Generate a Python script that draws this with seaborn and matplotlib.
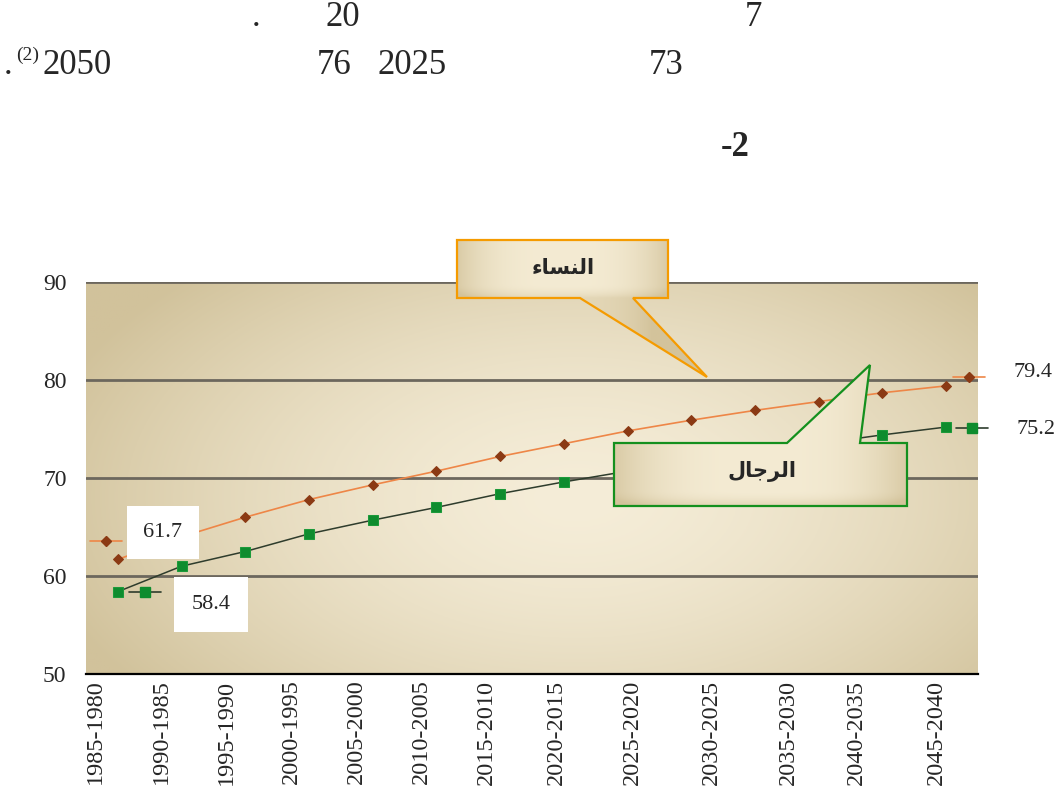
import numpy as np
import matplotlib
matplotlib.use("Agg")
import matplotlib.pyplot as plt
import matplotlib.colors as mcolors
from matplotlib.patches import Polygon
from matplotlib.lines import Line2D
from matplotlib.offsetbox import DrawingArea, AnnotationBbox
import seaborn as sns

# data
period_idx = list(range(14))
women = [61.7, 64.0, 66.0, 67.8, 69.3, 70.7, 72.2, 73.5, 74.8, 75.9, 76.9, 77.8, 78.7, 79.4]
men = [58.4, 61.0, 62.5, 64.3, 65.7, 67.0, 68.4, 69.6, 70.7, 71.7, 72.6, 73.5, 74.4, 75.2]
period_labels = ["1985-1980", "1990-1985", "1995-1990", "2000-1995", "2005-2000",
                 "2010-2005", "2015-2010", "2020-2015", "2025-2020", "2030-2025",
                 "2035-2030", "2040-2035", "2045-2040"]
y_ticks = [50, 60, 70, 80, 90]
# Arabic callout texts, already shaped (presentation forms, visual order)
women_name = "\uFE80\uFE8E\uFEB4\uFEE8\uFEDF\uFE8D"   # النساء
men_name = "\uFEDD\uFE8E\uFE9F\uFEAE\uFEDF\uFE8D"     # الرجال

W, H = 1063, 799
sns.set_style("white")
plt.rcParams['font.family'] = ['Liberation Serif', 'DejaVu Sans']

fig = plt.figure(figsize=(W / 100, H / 100), dpi=100)
ax = fig.add_axes([86 / W, 1 - 674 / H, (978 - 86) / W, (674 - 282) / H])


def blend(c1, c2, t):
    a = np.array(mcolors.to_rgb(c1))
    b = np.array(mcolors.to_rgb(c2))
    return a[None, None, :] * (1 - t[..., None]) + b[None, None, :] * t[..., None]


# beige gradient background
gx, gy = np.meshgrid(np.linspace(0, 1, 400), np.linspace(0, 1, 200))
r = np.sqrt(((gx - 0.55) / 0.62) ** 2 + ((gy - 0.55) / 0.8) ** 2)
t = np.clip(r, 0, 1) ** 1.6
bg = blend("#F5EDD8", "#D1C29B", t)
ax.imshow(bg, extent=(0, 1, 0, 1), transform=ax.transAxes, aspect="auto",
          origin="upper", zorder=0)

# series
sns.lineplot(x=period_idx, y=women, ax=ax, color="#EE8647", linewidth=1.2,
             marker="D", markersize=5.5, markerfacecolor="#8B3A14",
             markeredgecolor="#8B3A14", zorder=3)
sns.lineplot(x=period_idx, y=men, ax=ax, color="#2E3C2C", linewidth=1.1,
             marker="s", markersize=7.5, markerfacecolor="#0E8C2E",
             markeredgecolor="#1C9A3A", zorder=3)

ax.set_xlim(-0.5, len(period_idx) - 0.5)
ax.set_ylim(50, 90)
ax.set_yticks(y_ticks)
ax.yaxis.grid(True, color="#6C675D", linewidth=2.0)
ax.xaxis.grid(False)
ax.set_axisbelow(True)
for s in ["left", "right", "top"]:
    ax.spines[s].set_visible(False)
ax.spines["bottom"].set_color("black")
ax.spines["bottom"].set_linewidth(1.6)
ax.spines["bottom"].set_zorder(4)

# tick labels sit where the original text sat, not on the category centres
label_pos = [-0.35, 0.68, 1.7, 2.72, 3.74, 4.76, 5.78, 6.88, 8.08, 9.31, 10.53, 11.59, 12.84]
ax.set_xticks(label_pos)
ax.set_xticklabels(period_labels, rotation=90, fontsize=17.5)
ax.tick_params(axis="x", length=0, pad=4)
ax.tick_params(axis="y", length=0, pad=14, labelsize=17)
ax.set_xlabel("")
ax.set_ylabel("")
if ax.get_legend():
    ax.get_legend().remove()


def key_box(color, mfc, marker, ms):
    da = DrawingArea(23, 10, 0, 0)
    da.add_artist(Line2D([0, 23], [5, 5], color=color, lw=1.2))
    da.add_artist(Line2D([11.5], [5], marker=marker, ms=ms, mfc=mfc, mec=mfc, lw=0))
    return da


def px(v):
    return v * 0.72


# legend keys next to the data labels
keys = [
    (0, women[0], (-12, 18), "#EE8647", "#8B3A14", "D", 5.5),
    (0, men[0], (27, 0), "#2E3C2C", "#0E8C2E", "s", 7.5),
    (13, women[-1], (23, 9), "#EE8647", "#8B3A14", "D", 5.5),
    (13, men[-1], (26, -1), "#2E3C2C", "#0E8C2E", "s", 7.5),
]
for xi, yv, off, c, mfc, mk, ms in keys:
    ab = AnnotationBbox(key_box(c, mfc, mk, ms), (xi, yv), xybox=(px(off[0]), px(off[1])),
                        xycoords="data", boxcoords="offset points", frameon=False,
                        annotation_clip=False, zorder=5)
    ax.add_artist(ab)

white_box = dict(boxstyle="square,pad=0.75", fc="white", ec="none")
ax.annotate(f"{women[0]:.1f}", xy=(0, women[0]), xytext=(px(45), px(27)),
            textcoords="offset points", ha="center", va="center", fontsize=16,
            bbox=white_box, zorder=6)
ax.annotate(f"{men[0]:.1f}", xy=(0, men[0]), xytext=(px(93), px(-13)),
            textcoords="offset points", ha="center", va="center", fontsize=16,
            bbox=dict(boxstyle="square,pad=0.8", fc="white", ec="none"), zorder=6)
ax.annotate(f"{women[-1]:.1f}", xy=(13, women[-1]), xytext=(px(87), px(13)),
            textcoords="offset points", ha="center", va="center", fontsize=16,
            annotation_clip=False)
ax.annotate(f"{men[-1]:.1f}", xy=(13, men[-1]), xytext=(px(90), px(-2)),
            textcoords="offset points", ha="center", va="center", fontsize=16,
            annotation_clip=False)

# overlay in pixel coordinates for the callouts and the page text
ov = fig.add_axes([0, 0, 1, 1], zorder=5)
ov.axis("off")


def callout(pts, box, edge, text, txy):
    poly = Polygon(pts, closed=True, fc="none", ec=edge, lw=1.6, zorder=3)
    ov.add_patch(poly)
    xs = [p[0] for p in pts]
    ys = [p[1] for p in pts]
    x0, x1, y0, y1 = min(xs), max(xs), min(ys), max(ys)
    cx, cy = np.meshgrid(np.linspace(x0, x1, 200), np.linspace(y0, y1, 120))
    u = np.clip((cx - box[0]) / (box[2] - box[0]), 0, 1)
    v = np.clip((cy - box[1]) / (box[3] - box[1]), 0, 1)
    tt = np.clip(np.abs(u - 0.5) * 2, 0, 1) ** 3 * 0.8 + np.clip((v - 0.75) / 0.25, 0, 1) ** 2 * 0.5
    img = blend("#F4EBD3", "#D3C39B", np.clip(tt, 0, 1))
    im = ov.imshow(img, extent=(x0, x1, y1, y0), origin="upper", aspect="auto", zorder=2)
    im.set_clip_path(poly)
    ov.text(txy[0], txy[1], text, ha="center", va="center", fontsize=15,
            fontweight="bold", family="DejaVu Sans", zorder=4)


callout([(457, 240), (668, 240), (668, 298), (633, 298), (707, 377), (580, 298), (457, 298)],
        (457, 240, 668, 298), "#F59B00", women_name, (563, 268))
callout([(614, 443), (787, 443), (870, 365), (860, 443), (907, 443), (907, 506), (614, 506)],
        (614, 443, 907, 506), "#14901E", men_name, (762, 471))

# page text remnants above the chart
serif = dict(fontsize=25, family="Liberation Serif", va="center", ha="center")
ov.text(343, 18, "20", **serif)
ov.text(256, 18, ".", **serif)
ov.text(753, 18, "7", **serif)
ov.text(8, 66, ".", **serif)
ov.text(28, 55, "(2)", fontsize=14, family="Liberation Serif", va="center", ha="center")
ov.text(77, 66, "2050", **serif)
ov.text(334, 66, "76", **serif)
ov.text(412, 66, "2025", **serif)
ov.text(666, 66, "73", **serif)
ov.text(735, 148, "-2", fontsize=25, fontweight="bold", family="Liberation Serif",
        va="center", ha="center")

ov.set_xlim(0, W)
ov.set_ylim(H, 0)

fig.savefig("out.png", dpi=100)
